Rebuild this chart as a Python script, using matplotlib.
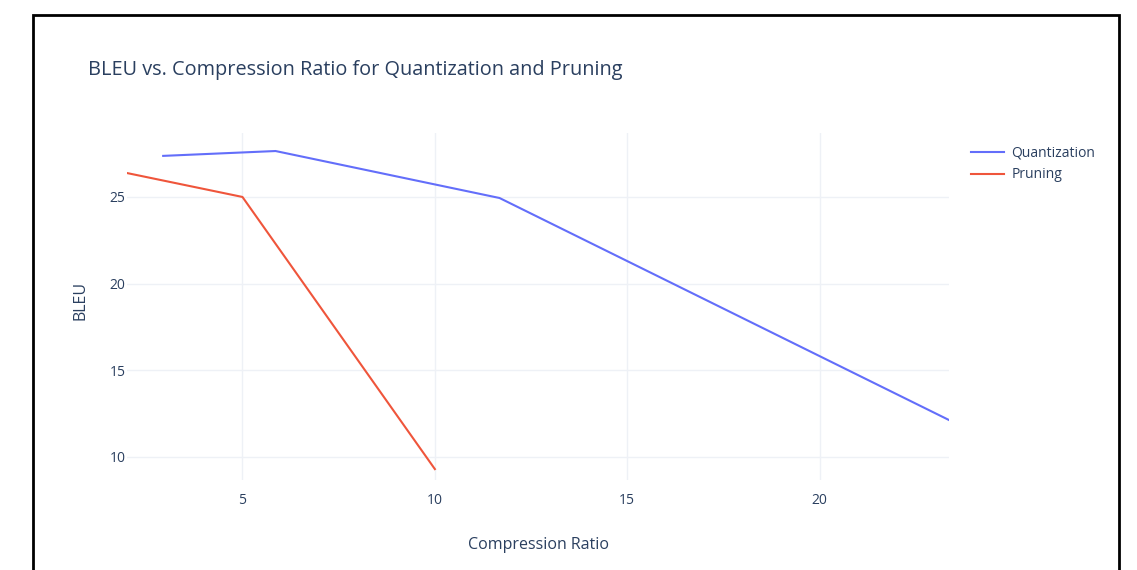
import matplotlib.pyplot as plt
from matplotlib.patches import Rectangle

# data
quant_ratio = [2.94, 5.86, 11.68, 23.36]
quant_bleu = [27.37, 27.65, 24.94, 12.13]
prune_ratio = [2.0, 5.0, 10.0]
prune_bleu = [26.38, 25.0, 9.30]
x_ticks = [5, 10, 15, 20]
y_ticks = [10, 15, 20, 25]

text_color = '#2a3f5f'
grid_color = '#eef1f6'

plt.rcParams['font.family'] = ['Open Sans', 'DejaVu Sans']

W, H = 1137, 570
fig = plt.figure(figsize=(W / 100, H / 100), dpi=100)
fig.patch.set_facecolor('white')

# plot area in pixel coordinates of the reference
left, right, top, bottom = 127, 949, 133, 480
ax = fig.add_axes([left / W, 1 - bottom / H, (right - left) / W, (bottom - top) / H])

ax.plot(quant_ratio, quant_bleu, color='#636efa', linewidth=1.5, label='Quantization',
        solid_joinstyle='round')
ax.plot(prune_ratio, prune_bleu, color='#EF553B', linewidth=1.5, label='Pruning',
        solid_joinstyle='round')

ax.set_xlim(min(prune_ratio), max(quant_ratio))
ax.set_ylim(8.67, 28.69)
ax.set_xticks(x_ticks)
ax.set_yticks(y_ticks)
ax.grid(True, color=grid_color, linewidth=1)
ax.set_axisbelow(True)
for s in ax.spines.values():
    s.set_visible(False)
ax.tick_params(length=0, labelsize=10, colors=text_color)
ax.tick_params(axis='x', pad=9)
ax.tick_params(axis='y', pad=1)
for lab in ax.get_xticklabels() + ax.get_yticklabels():
    lab.set_color(text_color)

# axis titles
fig.text(80 / W, 1 - 300 / H, 'BLEU', rotation=90, ha='center', va='center',
         fontsize=11.5, color=text_color)
fig.text(539 / W, 1 - 545 / H, 'Compression Ratio', ha='center', va='center',
         fontsize=11.5, color=text_color)

# title
fig.text(88 / W, 1 - 70 / H, 'BLEU vs. Compression Ratio for Quantization and Pruning',
         ha='left', va='center', fontsize=14.3, color=text_color)

# legend
leg = ax.legend(loc='upper left', bbox_to_anchor=(958 / W, 1 - 133 / H),
                bbox_transform=fig.transFigure, frameon=False, fontsize=10,
                handlelength=2.4, handletextpad=0.55, labelspacing=0.5)
for t in leg.get_texts():
    t.set_color(text_color)

# black frame around the chart
fig.patches.append(Rectangle((33 / W, -0.05), (1119 - 33) / W, 1.05 - 15 / H,
                             transform=fig.transFigure, fill=False,
                             edgecolor='black', linewidth=2))

fig.savefig('out.png', dpi=100)
